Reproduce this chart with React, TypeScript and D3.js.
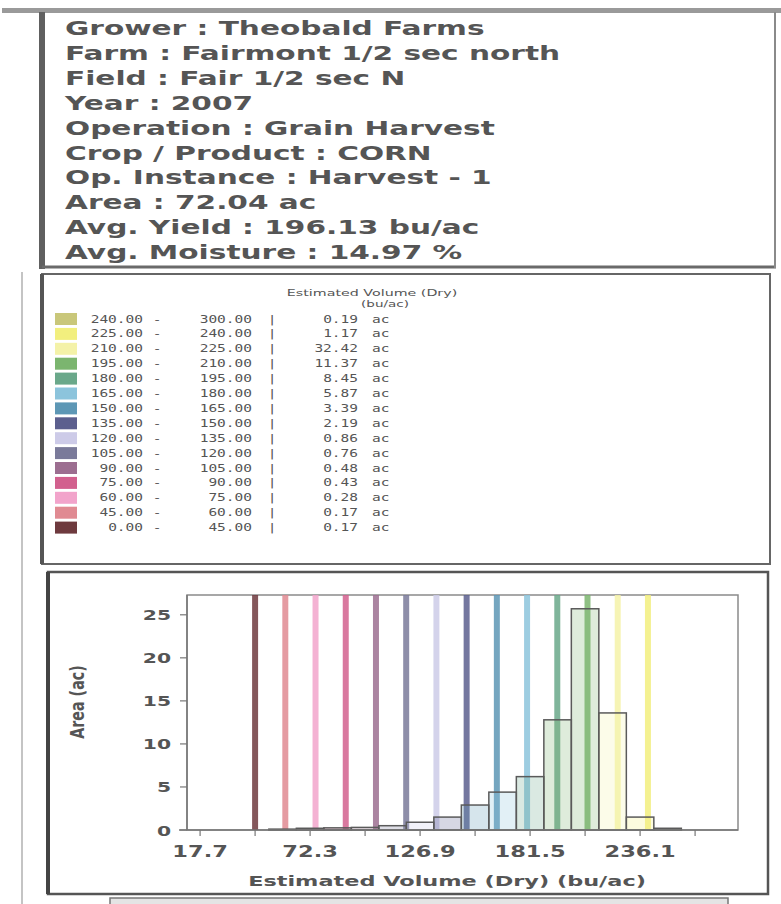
import React from "react";
import * as d3 from "d3";

const infoLines = [
  "Grower : Theobald Farms",
  "Farm  : Fairmont 1/2 sec north",
  "Field  : Fair 1/2 sec N",
  "Year : 2007",
  "Operation  : Grain Harvest",
  "Crop / Product : CORN",
  "Op. Instance : Harvest - 1",
  "Area : 72.04 ac",
  "Avg. Yield : 196.13 bu/ac",
  "Avg. Moisture : 14.97 %",
];

const legendTitle = "Estimated Volume (Dry)";
const legendUnit = "(bu/ac)";
const classLower = [240, 225, 210, 195, 180, 165, 150, 135, 120, 105, 90, 75, 60, 45, 0];
const classUpper = [300, 240, 225, 210, 195, 180, 165, 150, 135, 120, 105, 90, 75, 60, 45];
const classArea = ["0.19", "1.17", "32.42", "11.37", "8.45", "5.87", "3.39", "2.19", "0.86", "0.76", "0.48", "0.43", "0.28", "0.17", "0.17"];
const classColors = [
  "#c9c77a", "#f2ef7e", "#f4f2a8", "#7bb56f", "#6aa88a", "#8cc4dc", "#5d97b5",
  "#5c5f8e", "#cdcbe8", "#7a7a9a", "#9c6e90", "#d2608e", "#f2a4cb", "#e08a92", "#6e3a3e",
];

const binCenters = [58.65, 72.3, 85.95, 99.6, 113.25, 126.9, 140.55, 154.2, 167.85, 181.5, 195.15, 208.8, 222.45, 236.1, 249.75];
const binAreas = [0.1, 0.2, 0.25, 0.3, 0.5, 0.9, 1.5, 2.9, 4.4, 6.2, 12.8, 25.7, 13.6, 1.5, 0.2];
const binWidth = 13.65;

const xTickValues = [17.7, 45.0, 72.3, 99.6, 126.9, 154.2, 181.5, 208.8, 236.1, 263.4];
const xTickLabels = ["17.7", "", "72.3", "", "126.9", "", "181.5", "", "236.1", ""];
const yTickValues = [0, 5, 10, 15, 20, 25];
const xDomain = [11.2, 284.7];
const yDomain = [0, 27.3];
const xTitle = "Estimated Volume (Dry) (bu/ac)";
const yTitle = "Area (ac)";

function SText(props: any) {
  const { x, y, sx = 1.5, sy = 1, anchor = "start", size = 12, weight = "normal", family = "DejaVu Sans", fill = "#444", rotate = 0, children } = props;
  return (
    <text
      transform={`translate(${x},${y}) rotate(${rotate}) scale(${sx},${sy})`}
      textAnchor={anchor}
      fontSize={size}
      fontWeight={weight}
      fontFamily={family}
      fill={fill}
    >
      {children}
    </text>
  );
}

export default function App() {
  const W = 781, H = 904;
  const plot = { left: 187, right: 738, top: 595, bottom: 830 };
  const x = d3.scaleLinear().domain(xDomain).range([plot.left, plot.right]);
  const y = d3.scaleLinear().domain(yDomain).range([plot.bottom, plot.top]);

  const colorFor = (v: number) => {
    for (let i = 0; i < classLower.length; i++) {
      if (v >= classLower[i] && v < classUpper[i]) return classColors[i];
    }
    return "#ccc";
  };

  const rowY0 = 319;
  const rowStep = 14.9;

  return (
    <svg width={W} height={H} style={{ position: "absolute", left: 0, top: 0, background: "#fff" }}>
      <rect x={0} y={0} width={W} height={H} fill="#fff" />
      {/* top band */}
      <rect x={2} y={8} width={W - 2} height={5} fill="#9a9a9a" />
      {/* left outer thin line */}
      <line x1={22} y1={272} x2={22} y2={904} stroke="#b0b0b0" strokeWidth={1.5} />
      {/* info box */}
      <rect x={39} y={12} width={6} height={257} fill="#606060" />
      <line x1={42} y1={267} x2={776} y2={267} stroke="#6a6a6a" strokeWidth={3} />
      <line x1={775} y1={12} x2={775} y2={268} stroke="#8a8a8a" strokeWidth={2} />
      {infoLines.map((t, i) => (
        <SText key={i} x={65} y={35 + i * 24.9} sx={1.48} size={20} weight="bold" fill="#555">
          {t}
        </SText>
      ))}

      {/* legend box */}
      <rect x={42} y={274} width={728} height={290} fill="none" stroke="#666" strokeWidth={2} />
      <line x1={42} y1={274} x2={42} y2={564} stroke="#555" strokeWidth={4} />
      <SText x={372} y={296} anchor="middle" sx={1.5} size={9.5} fill="#555">{legendTitle}</SText>
      <SText x={385} y={307} anchor="middle" sx={1.5} size={9} fill="#555">{legendUnit}</SText>
      {classLower.map((lo, i) => {
        const cy = rowY0 + i * rowStep;
        return (
          <g key={i}>
            <rect x={55} y={cy - 6} width={22} height={12} fill={classColors[i]} />
            <SText x={143} y={cy + 3.5} anchor="end" sx={1.45} size={10} family="DejaVu Sans Mono" fill="#555">{lo.toFixed(2)}</SText>
            <SText x={157} y={cy + 3.5} anchor="middle" sx={1.45} size={10} family="DejaVu Sans Mono" fill="#555">-</SText>
            <SText x={252} y={cy + 3.5} anchor="end" sx={1.45} size={10} family="DejaVu Sans Mono" fill="#555">{classUpper[i].toFixed(2)}</SText>
            <SText x={272} y={cy + 3.5} anchor="middle" sx={1.45} size={10} family="DejaVu Sans Mono" fill="#555">|</SText>
            <SText x={358} y={cy + 3.5} anchor="end" sx={1.45} size={10} family="DejaVu Sans Mono" fill="#555">{classArea[i]}</SText>
            <SText x={372} y={cy + 3.5} sx={1.45} size={10} family="DejaVu Sans Mono" fill="#555">ac</SText>
          </g>
        );
      })}

      {/* chart box */}
      <rect x={48} y={572} width={720} height={322} fill="none" stroke="#555" strokeWidth={2.5} />
      <line x1={48} y1={572} x2={48} y2={894} stroke="#444" strokeWidth={4} />

      {/* plot frame */}
      <rect x={plot.left} y={plot.top} width={plot.right - plot.left} height={plot.bottom - plot.top} fill="#fff" stroke="#8a8a8a" strokeWidth={1.5} />

      {/* class boundary lines */}
      {classUpper.slice(1).map((b, j) => {
        const i = j + 1;
        return (
          <line key={i} x1={x(b)} x2={x(b)} y1={plot.top} y2={plot.bottom} stroke={classColors[i]} strokeWidth={6} strokeOpacity={0.85} />
        );
      })}

      {/* histogram bars */}
      {binCenters.map((c, i) => (
        <rect
          key={i}
          x={x(c - binWidth / 2)}
          y={y(binAreas[i])}
          width={x(c + binWidth / 2) - x(c - binWidth / 2)}
          height={y(0) - y(binAreas[i])}
          fill={colorFor(c)}
          fillOpacity={0.25}
          stroke="#5a5a5a"
          strokeWidth={1.5}
        />
      ))}

      {/* axes */}
      <line x1={plot.left} y1={plot.top} x2={plot.left} y2={plot.bottom} stroke="#777" strokeWidth={1.5} />
      <line x1={plot.left - 8} y1={plot.bottom} x2={plot.right} y2={plot.bottom} stroke="#777" strokeWidth={1.5} />
      {yTickValues.map((v) => (
        <g key={v}>
          <line x1={plot.left - 7} x2={plot.left} y1={y(v)} y2={y(v)} stroke="#777" strokeWidth={1.2} />
          <SText x={plot.left - 16} y={y(v) + 5.5} anchor="end" sx={1.45} size={14} weight="bold" fill="#555">{v}</SText>
        </g>
      ))}
      {xTickValues.map((v, i) => (
        <g key={i}>
          <line x1={x(v)} x2={x(v)} y1={plot.bottom} y2={plot.bottom + 6} stroke="#777" strokeWidth={1.2} />
          {xTickLabels[i] && (
            <SText x={x(v)} y={plot.bottom + 27} anchor="middle" sx={1.5} size={15} weight="bold" fill="#555">{xTickLabels[i]}</SText>
          )}
        </g>
      ))}
      <SText x={447} y={886} anchor="middle" sx={1.6} size={14} weight="bold" fill="#555">{xTitle}</SText>
      <SText x={84} y={702} anchor="middle" rotate={-90} sx={1.1} sy={1.45} size={13} weight="bold" fill="#555">{yTitle}</SText>

      {/* bottom scroll bar */}
      <rect x={110} y={898} width={618} height={10} fill="#e4e4e4" stroke="#777" strokeWidth={1.5} />
    </svg>
  );
}
